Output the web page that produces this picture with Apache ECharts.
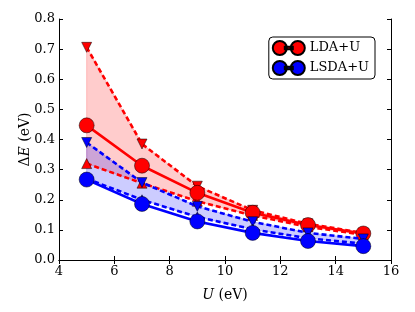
<!DOCTYPE html>
<html><head><meta charset="utf-8">
<script src="https://cdn.jsdelivr.net/npm/echarts@6/dist/echarts.min.js"></script>
<style>html,body{margin:0;padding:0;background:#fff}#c{width:415px;height:312px}</style>
</head><body><div id="c"></div>
<script>
const U = [5, 7, 9, 11, 13, 15];
const ldaU = [0.447, 0.313, 0.223, 0.157, 0.116, 0.088];
const ldaUpper = [0.706, 0.385, 0.245, 0.165, 0.120, 0.090];
const ldaLower = [0.320, 0.255, 0.195, 0.148, 0.110, 0.084];
const lsdaU = [0.267, 0.186, 0.128, 0.090, 0.063, 0.046];
const lsdaUpper = [0.390, 0.257, 0.178, 0.127, 0.090, 0.070];
const lsdaLower = [0.270, 0.200, 0.143, 0.102, 0.072, 0.054];
const xTicks = [4, 6, 8, 10, 12, 14, 16];
const yTicks = [0.0, 0.1, 0.2, 0.3, 0.4, 0.5, 0.6, 0.7, 0.8];

const FONT = 'DejaVu Serif';
const pairs = (xs, ys) => xs.map((x, i) => [x, ys[i]]);

function band(upper, lower, color, z) {
  return {
    type: 'custom', z: z, silent: true,
    data: [[U[0], lower[0]]],
    renderItem: function (params, api) {
      const pts = [];
      for (let i = 0; i < U.length; i++) pts.push(api.coord([U[i], upper[i]]));
      for (let i = U.length - 1; i >= 0; i--) pts.push(api.coord([U[i], lower[i]]));
      return {
        type: 'polygon',
        shape: { points: pts },
        style: { fill: color, stroke: color, lineWidth: 1 }
      };
    }
  };
}

function dashed(ys, color, rot, z) {
  return {
    type: 'line', data: pairs(U, ys), z: z,
    symbol: 'triangle', symbolSize: 10, symbolRotate: rot,
    itemStyle: { color: color, borderColor: '#000', borderWidth: 0.5 },
    lineStyle: { color: color, width: 2.6, type: [5, 3] },
    animation: false
  };
}

function solid(name, ys, color, z) {
  return {
    name: name, type: 'line', data: pairs(U, ys), z: z,
    symbol: 'circle', symbolSize: 15,
    itemStyle: { color: color, borderColor: '#000', borderWidth: 0.5 },
    lineStyle: { color: color, width: 2.6 },
    animation: false
  };
}

const legendIcon = 'path://M0,7 a7,7 0 1,0 14,0 a7,7 0 1,0 -14,0 Z M18,7 a7,7 0 1,0 14,0 a7,7 0 1,0 -14,0 Z M12,5.8 L20,5.8 L20,8.2 L12,8.2 Z';

const axisCommon = {
  type: 'value',
  axisLine: { show: true, lineStyle: { color: '#000', width: 1 } },
  axisTick: { show: true, inside: true, length: 4, lineStyle: { color: '#000' } },
  splitLine: { show: false }
};

const chart = echarts.init(document.getElementById('c'), null, { renderer: 'canvas' });
chart.setOption({
  animation: false,
  grid: { left: 59, right: 24, top: 19, bottom: 52, show: false },
  legend: {
    data: ['LDA+U', 'LSDA+U'],
    orient: 'vertical', right: 40, top: 37,
    icon: legendIcon, itemWidth: 32, itemHeight: 14, itemGap: 4,
    backgroundColor: '#fff', borderColor: '#000', borderWidth: 1, borderRadius: 4,
    padding: [3, 6, 3, 3],
    textStyle: { fontFamily: FONT, fontSize: 13, color: '#000' }
  },
  xAxis: [
    Object.assign({}, axisCommon, {
      min: 4, max: 16, interval: 2, position: 'bottom',
      name: '{i|U} (eV)', nameLocation: 'middle', nameGap: 28, nameMoveOverlap: false,
      nameTextStyle: { fontFamily: FONT, fontSize: 14, color: '#000',
        rich: { i: { fontFamily: FONT, fontStyle: 'italic', fontSize: 14 } } },
      axisLabel: { fontFamily: FONT, fontSize: 13, color: '#000', margin: 5,
        formatter: v => xTicks.includes(v) ? String(v) : '' }
    }),
    Object.assign({}, axisCommon, {
      min: 4, max: 16, interval: 2, position: 'top', axisLabel: { show: false }
    })
  ],
  yAxis: [
    Object.assign({}, axisCommon, {
      min: 0, max: 0.8, interval: 0.1, position: 'left',
      name: 'Δ{i|E} (eV)', nameLocation: 'middle', nameGap: 27, nameMoveOverlap: false,
      nameTextStyle: { fontFamily: FONT, fontSize: 14, color: '#000',
        rich: { i: { fontFamily: FONT, fontStyle: 'italic', fontSize: 14 } } },
      axisLabel: { fontFamily: FONT, fontSize: 13, color: '#000', margin: 4,
        formatter: v => { const t = yTicks.find(y => Math.abs(y - v) < 1e-6); return t === undefined ? '' : t.toFixed(1); } }
    }),
    Object.assign({}, axisCommon, {
      min: 0, max: 0.8, interval: 0.1, position: 'right', axisLabel: { show: false }
    })
  ],
  series: [
    band(ldaUpper, ldaLower, 'rgba(255,0,0,0.2)', 1),
    band(lsdaUpper, lsdaLower, 'rgba(0,0,255,0.2)', 1),
    dashed(ldaUpper, '#ff0000', 180, 2),
    dashed(ldaLower, '#ff0000', 0, 2),
    solid('LDA+U', ldaU, '#ff0000', 3),
    dashed(lsdaUpper, '#0000ff', 180, 4),
    dashed(lsdaLower, '#0000ff', 0, 4),
    solid('LSDA+U', lsdaU, '#0000ff', 5)
  ]
});
</script></body></html>
